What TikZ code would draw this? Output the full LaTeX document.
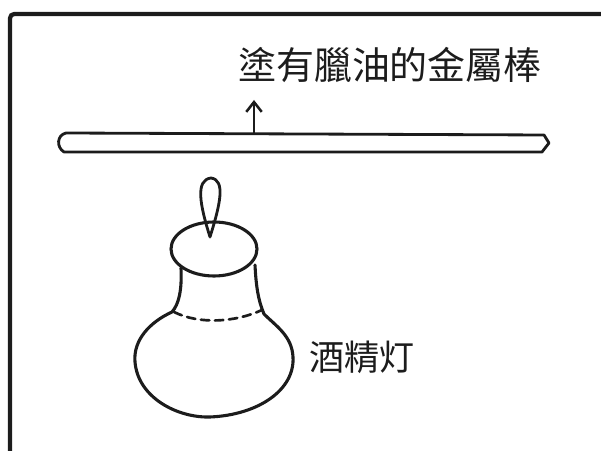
\documentclass[tikz,border=0pt]{standalone}
\usepackage{fontspec}
\usepackage{xcolor}
\usepackage{tikz}
\usetikzlibrary{arrows.meta}
\newfontfamily\cjkfont{Noto Sans CJK TC}
\definecolor{ink}{HTML}{1C1C1C}
\newcommand{\rodfont}{\cjkfont\fontsize{27}{30}\selectfont}
\newcommand{\lampfont}{\cjkfont\fontsize{25}{28}\selectfont}

\tikzset{
  outline/.style={draw=ink, line width=2.2pt, line join=round, line cap=round},
  frameline/.style={draw=ink, line width=3pt, line cap=butt},
  caption/.style={text=ink, inner sep=0pt, anchor=center}
}

\begin{document}
\begin{tikzpicture}[x=0.025cm, y=-0.025cm]
\useasboundingbox (0,0) rectangle (601,451);

% frame, open at right and bottom
\draw[frameline, rounded corners=3pt] (10,451) -- (10,14) -- (601,14);

% the waxed rod
\draw[outline, line width=2pt]
  (544,135) -- (66,133)
  .. controls (57,135) and (56,147) .. (64,152)
  -- (542,152) -- (549,143) -- cycle;
\coordinate (rodtop) at (254,133);
\coordinate (arrowend) at (254,100);
\draw[ink, line width=1.8pt, -{Straight Barb[length=7pt, width=11pt]}] (rodtop) -- (arrowend);
\node[caption, font=\rodfont] (rodlabel) at (390,65) {塗有臘油的金屬棒};

% spirit lamp
\draw[outline] (214,249) ellipse [x radius=43, y radius=27];
\draw[outline, line width=2pt] (210,237) .. controls (200,205) and (195,180) .. (211,178)
  .. controls (226,180) and (220,205) .. (210,237);
\draw[outline]
  (181,268) .. controls (182,290) and (179,304) .. (172,312)
  .. controls (150,322) and (133,340) .. (135,362)
  .. controls (138,398) and (178,418) .. (210,417)
  .. controls (258,415) and (295,390) .. (293,357)
  .. controls (292,336) and (276,326) .. (264,314)
  .. controls (258,300) and (256,285) .. (255,265);
\draw[outline, line width=1.9pt, dash pattern=on 6pt off 4pt]
  (174,312) .. controls (200,325) and (236,322) .. (262,310);
\node[caption, font=\lampfont] (lamplabel) at (362,357) {酒精灯};
\end{tikzpicture}
\end{document}
